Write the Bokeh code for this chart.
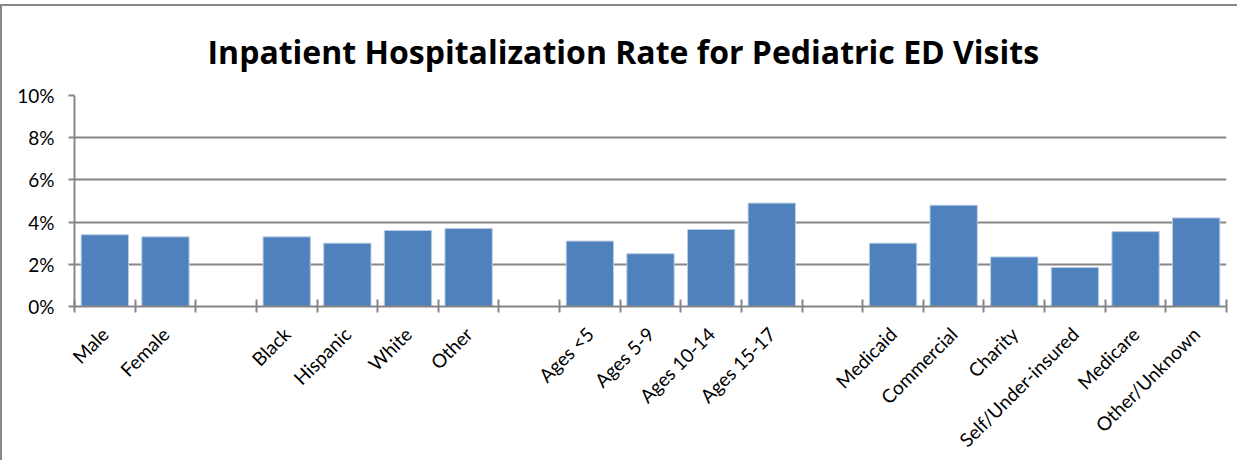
from bokeh.plotting import figure
from bokeh.models import FixedTicker, PrintfTickFormatter, Range1d, ColumnDataSource
from bokeh.embed import file_html
from bokeh.resources import INLINE

# ---- data -------------------------------------------------------------
sex_labels = ["Male", "Female"]
sex_values = [3.4, 3.3]
race_labels = ["Black", "Hispanic", "White", "Other"]
race_values = [3.3, 3.0, 3.6, 3.7]
age_labels = ["Ages <5", "Ages 5-9", "Ages 10-14", "Ages 15-17"]
age_values = [3.1, 2.5, 3.65, 4.9]
payer_labels = ["Medicaid", "Commercial", "Charity", "Self/Under-insured", "Medicare", "Other/Unknown"]
payer_values = [3.0, 4.8, 2.35, 1.85, 3.55, 4.2]
y_ticks = [0, 2, 4, 6, 8, 10]
title_text = "Inpatient Hospitalization Rate for Pediatric ED Visits"

groups = [(sex_labels, sex_values), (race_labels, race_values),
          (age_labels, age_values), (payer_labels, payer_values)]

# slot layout: one empty slot between groups
labels, values, slots = [], [], []
slot = 0
for gi, (gl, gv) in enumerate(groups):
    if gi > 0:
        slot += 1
    for l, v in zip(gl, gv):
        labels.append(l)
        values.append(v)
        slots.append(slot)
        slot += 1
n_slots = slot
centers = [s + 0.5 for s in slots]
boundaries = list(range(n_slots + 1))

src = ColumnDataSource(dict(x=centers, top=values, label=labels))

p = figure(width=1237, height=456, output_backend="svg", toolbar_location=None,
           x_range=Range1d(0, n_slots), y_range=Range1d(0, 10),
           min_border_left=72, min_border_right=13, min_border_top=89, min_border_bottom=10)
p.styles = {"border-top": "2px solid #888888", "border-left": "2px solid #888888",
            "margin-top": "4px", "margin-bottom": "-10px"}
p.outline_line_color = None
p.background_fill_color = "white"
p.border_fill_color = "white"

p.vbar(x="x", top="top", width=0.78, bottom=0, source=src,
       fill_color="#4F81BD", line_color="#b8cce4", line_width=1)

# title
p.title.text = title_text
p.title.text_font = "Open Sans"
p.title.text_font_style = "bold"
p.title.text_font_size = "32px"
p.title.text_color = "black"
p.title.align = "left"
p.title.vertical_align = "top"
p.title.offset = 133
p.title.standoff = 42

# x axis
xa = p.xaxis[0]
xa.ticker = FixedTicker(ticks=centers, minor_ticks=boundaries)
xa.major_label_overrides = {c: l for c, l in zip(centers, labels)}
xa.major_tick_in = 0
xa.major_tick_out = 0
xa.minor_tick_in = 7
xa.minor_tick_out = 6
xa.minor_tick_line_color = "#868686"
xa.minor_tick_line_width = 2
xa.axis_line_color = "#868686"
xa.axis_line_width = 2
xa.major_label_orientation = 0.785398
xa.major_label_standoff = 18
xa.major_label_text_font = "Lato"
xa.major_label_text_font_size = "19px"
xa.major_label_text_color = "black"

# y axis
ya = p.yaxis[0]
ya.ticker = FixedTicker(ticks=y_ticks, minor_ticks=[])
ya.formatter = PrintfTickFormatter(format="%d%%")
ya.major_tick_in = 0
ya.major_tick_out = 6
ya.major_tick_line_color = "#868686"
ya.major_tick_line_width = 2
ya.axis_line_color = "#868686"
ya.axis_line_width = 2
ya.major_label_standoff = 14
ya.major_label_text_font = "Lato"
ya.major_label_text_font_size = "19px"
ya.major_label_text_color = "black"

p.xgrid.grid_line_color = None
p.ygrid.ticker = FixedTicker(ticks=y_ticks)
p.ygrid.grid_line_color = "#868686"
p.ygrid.grid_line_width = 2

open("out.html", "w").write(file_html(p, INLINE))
